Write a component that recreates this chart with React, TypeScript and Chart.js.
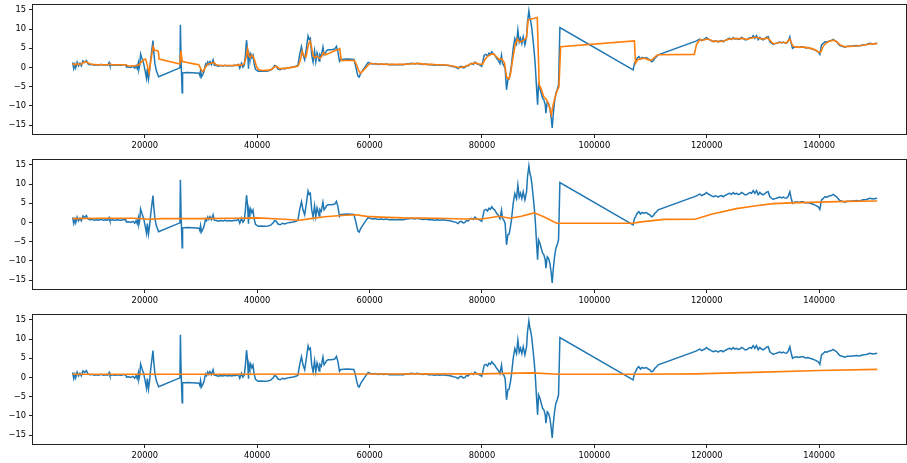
import React, { useEffect, useRef } from "react";
import { Chart, registerables } from "chart.js";

Chart.register(...registerables);

const xTicks = [20000, 40000, 60000, 80000, 100000, 120000, 140000];
const yTicks = [-15, -10, -5, 0, 5, 10, 15];

// raw signal (blue), same in all three panels
const rawSeries: [number, number][] = [
  [7150,1.3],[7350,-0.3],[7550,0.8],[7700,-0.1],[7950,1.4],[8200,0.4],[8450,1.1],[8700,0.4],[9000,1.7],[9300,1.3],[9600,1.8],[9900,0.9],[10200,0.7],[10600,0.8],[11000,0.6],[11400,0.7],[11800,0.6],[12200,0.8],[12600,0.6],[13000,0.7],[13400,0.6],[13650,1.3],[13800,0.5],[14200,0.7],[14700,0.6],[15200,0.7],[15700,0.6],[16200,0.7],[16600,0.7],
  [16750,0.1],[17100,0.2],[17500,0.0],[17900,0.3],[18200,-0.2],[18450,0.5],[18650,-0.3],[18850,1.2],[18950,-0.4],[19100,0.6],
  [19250,3.5],[19500,2.3],[19800,1.0],[20050,-0.8],[20300,-2.8],[20450,-0.3],[20650,-3.0],[20850,-0.8],[21050,2.2],[21250,4.6],[21450,7.0],[21600,4.0],[21800,1.0],[22050,-0.8],[22450,-2.4],
  [26250,-0.1],[26330,11.1],[26450,2.0],[26650,-6.6],[26720,-1.4],[27500,-1.3],[28500,-1.4],[29650,-1.5],[29800,-2.1],[29920,-0.8],[30100,-2.4],[30300,-1.9],[30500,-1.2],[30700,0.2],[30850,0.9],[31000,0.5],[31200,1.4],[31400,0.8],[31600,1.5],[31850,0.7],[32150,2.0],[32350,0.6],[32700,0.5],[33100,0.3],[33500,0.5],[33900,0.4],[34300,0.6],[34700,0.4],[35100,0.5],[35500,0.4],[35900,0.6],[36300,0.5],[36650,0.8],[36900,-0.2],[37200,1.1],[37450,0.1],[37700,0.6],[37900,3.2],[38100,7.1],[38280,4.6],[38450,-0.3],[38570,3.3],[38700,2.4],[38850,3.5],[39050,2.5],[39250,3.2],[39450,1.0],[39700,-0.5],[40150,-1.0],[40700,-0.9],[41300,-1.0],[41900,-0.9],[42400,-0.7],[42850,-0.1],[43100,0.5],[43400,0.3],[43700,-0.4],[44100,-0.6],[44500,-0.2],[44900,-0.4],[45400,-0.1],[45900,0.0],[46400,0.1],[46900,0.3],[47250,0.6],
  [47550,3.3],[47880,5.4],[48150,3.3],[48450,2.0],[48750,5.0],[49050,8.2],[49250,7.3],[49450,7.6],[49700,3.3],[49950,1.4],[50200,4.3],[50430,1.5],[50650,3.8],[50850,2.8],[51030,1.7],[51150,3.4],[51400,2.9],[51700,5.3],[51900,3.3],[52200,3.9],[52350,4.4],[52650,4.6],[53200,4.6],[53800,4.8],[54100,5.5],[54350,4.2],[54650,1.6],[54900,2.1],[56000,2.2],[57200,2.1],
  [57450,0.8],[57750,-1.2],[57950,-2.3],[58150,-2.5],[58400,-1.6],[58800,-0.7],[59250,0.3],[59750,1.3],[60050,1.1],[60500,0.9],[61000,1.0],[61500,0.8],[62000,0.9],[62500,0.8],[63000,0.9],[63500,0.7],[64000,0.8],[64500,0.7],[65000,0.7],[65500,0.8],[66000,0.7],[66500,0.9],[67000,1.0],[67500,1.1],[68000,0.9],[68500,1.1],[69000,0.9],[69500,0.8],[70000,0.9],[70500,0.7],[71000,0.8],[71500,0.6],[72000,0.7],[72500,0.6],[73000,0.7],[73500,0.6],[74000,0.5],[74500,0.4],[74900,0.2],[75300,0.1],[75750,-0.3],[76050,0.2],[76350,0.3],[76650,-0.1],[76950,0.0],[77250,0.5],[77550,0.4],[77850,0.9],[78150,1.1],[78450,0.8],[78750,1.4],[79050,1.0],[79350,0.8],[79650,0.6],[79950,0.3],[80150,1.5],
  [80400,3.2],[80700,3.4],[81000,3.0],[81250,3.7],[81500,3.4],[81750,4.1],[82000,3.6],[82300,3.2],[82600,2.4],[82900,1.9],[83200,1.0],[83480,3.2],[83660,1.0],[83900,0.6],[84130,-0.3],[84370,-5.8],[84610,-3.2],[84840,-3.0],[85080,-1.0],[85260,0.8],[85560,5.0],[85850,7.5],[86150,6.2],[86390,9.7],[86630,6.6],[86860,7.6],[87100,6.2],[87340,8.0],[87640,5.9],[87930,7.9],[88110,11.9],[88350,14.7],[88530,12.8],[88710,11.8],[88880,10.1],[89120,6.7],[89300,4.0],[89480,0.7],[89720,-5.4],[89900,-9.7],[90070,-4.5],[90310,-5.4],[90550,-6.7],[90790,-8.0],[91020,-8.4],[91260,-9.7],[91380,-11.9],[91620,-8.9],[91850,-9.3],[92090,-10.6],[92330,-13.2],[92500,-15.7],[92680,-12.3],[92920,-8.9],[93160,-6.7],[93390,-5.8],[93630,-4.5],[93870,10.4],
  [106900,-0.6],[107150,1.1],[107380,1.6],[107620,2.4],[107920,2.8],[108220,2.2],[108510,2.6],[108810,2.4],[109280,2.6],[109580,2.2],[109880,2.0],[110170,1.5],[110470,1.7],[110770,2.4],[111070,2.8],[111360,3.3],
  [118190,6.9],[118480,7.2],[118780,7.4],[119070,7.0],[119370,7.2],[119660,7.4],[119960,7.8],[120260,7.4],[120560,7.2],[120850,6.9],[121150,6.7],[121450,6.9],[121740,6.9],[122040,6.6],[122340,6.9],[122630,7.0],[122930,6.7],[123220,7.0],[123520,7.2],[123820,7.5],[124120,7.6],[124410,7.3],[124710,7.8],[125000,7.4],[125300,7.6],[125600,7.3],[125900,7.4],[126200,7.8],[126490,7.6],[126780,7.2],[127080,7.2],[127380,7.5],[127680,7.8],[127980,7.6],[128270,8.3],[128570,7.6],[128870,8.3],[129160,7.2],[129460,7.8],[129750,7.4],[130050,7.2],[130350,7.5],[130650,7.9],[130940,8.0],[131240,6.7],[131540,6.3],[131830,6.0],[132130,6.2],[132430,6.3],[132730,6.5],[133020,6.6],[133320,6.4],[133610,6.6],[133900,6.4],[134200,6.3],[134500,6.8],[134790,8.0],[135000,6.5],[135270,5.0],[135600,5.3],[135980,5.4],[136400,5.2],[136800,5.4],[137170,5.4],[137600,5.1],[138000,5.2],[138350,5.0],[138800,4.8],[139300,4.5],[139840,4.1],[140130,3.4],[140430,5.9],[140700,6.2],[141020,6.7],[141400,6.6],[141800,6.9],[142200,7.0],[142510,7.3],[142800,7.0],[143100,6.7],[143400,6.2],[143690,5.7],[144100,5.5],[144580,5.3],[145000,5.5],[145470,5.5],[146000,5.6],[146660,5.7],[147200,5.6],[147840,5.9],[148400,6.0],[149030,6.3],[149600,6.1],[150340,6.3],
];

// orange, panel 1 (short window)
const smoothShort: [number, number][] = [
  [7150,1.1],[7500,0.6],[7900,1.0],[8300,0.8],[8700,0.9],[9100,1.3],[9500,1.5],[9900,1.2],[10300,0.9],[10800,0.8],[11500,0.7],[12500,0.7],[13500,0.7],[13800,0.9],[14300,0.7],[15500,0.7],[16600,0.7],[17000,0.4],[17800,0.4],[18500,0.5],[19000,0.7],[19400,1.5],[19800,2.0],[20150,2.2],[20400,0.8],[20750,-1.4],[21050,1.5],[21300,4.0],[21500,5.4],[21700,4.5],[22100,4.4],[22400,4.2],[22550,2.2],[26250,0.9],[26420,4.3],[26650,1.6],[27500,1.3],[28500,1.0],[29600,0.7],[29950,-0.3],[30250,-1.1],[30550,-0.6],[30900,0.4],[31300,1.0],[31800,1.1],[32300,1.3],[32700,0.7],[33300,0.5],[34500,0.5],[35500,0.5],[36500,0.6],[37200,0.6],[37700,1.0],[38000,2.5],[38280,4.8],[38500,3.0],[38750,2.6],[39000,3.2],[39300,2.8],[39600,1.6],[39900,0.1],[40300,-0.6],[41000,-0.8],[42000,-0.7],[42600,-0.5],[43100,0.2],[43500,0.3],[43900,-0.3],[44500,-0.3],[45500,-0.1],[46500,0.1],[47300,0.4],[47700,2.0],[48000,4.2],[48300,3.0],[48700,2.8],[49100,5.9],[49400,6.8],[49650,5.5],[49950,3.0],[50300,2.5],[50600,3.0],[50900,2.6],[51200,2.4],[51500,3.0],[51800,3.9],[52100,3.3],[52500,3.5],[53100,3.9],[53700,4.3],[54300,4.6],[54700,4.9],[54950,1.8],[57300,1.8],[57650,0.8],[58000,-0.6],[58350,-1.5],[58800,-0.9],[59300,-0.1],[59800,0.7],[60200,1.1],[61000,0.9],[62000,0.9],[63000,0.8],[64000,0.8],[65000,0.8],[66000,0.8],[67000,0.9],[68000,1.0],[69000,1.0],[70000,0.8],[71000,0.8],[72000,0.7],[73000,0.7],[74000,0.6],[75000,0.3],[75800,0.0],[76500,0.1],[77200,0.3],[78000,0.9],[78800,1.2],[79500,0.9],[80100,0.8],[80500,2.0],[81000,2.9],[81500,3.3],[82000,3.6],[82500,2.9],[83000,2.1],[83500,2.3],[84000,1.2],[84400,-2.6],[84800,-3.0],[85100,-1.5],[85500,2.4],[85900,5.9],[86300,7.4],[86700,6.6],[87100,6.8],[87500,7.2],[87900,7.6],[88230,12.4],[89840,13.0],[90190,-4.5],[90600,-5.8],[91000,-7.6],[91500,-8.4],[91900,-9.7],[92350,-12.3],[92600,-10.2],[92900,-8.4],[93300,-6.3],[93700,-5.0],[94000,5.4],[107140,6.9],[107320,1.1],[107700,2.0],[108300,2.3],[109000,2.4],[109600,2.0],[110000,1.8],[110500,2.3],[111000,3.0],[111360,3.3],[117780,3.4],[118190,6.0],[118780,7.2],[119400,7.1],[120000,7.4],[120600,7.2],[121200,6.8],[121800,6.8],[122400,6.8],[123000,6.9],[123600,7.2],[124200,7.4],[124800,7.5],[125400,7.5],[126000,7.5],[126600,7.5],[127200,7.3],[127800,7.6],[128400,7.8],[129000,7.8],[129600,7.5],[130200,7.4],[130800,7.7],[131300,7.0],[131800,6.2],[132400,6.3],[133000,6.5],[133600,6.5],[134200,6.4],[134800,7.4],[135300,5.6],[135900,5.3],[136600,5.3],[137300,5.3],[138000,5.1],[138700,4.9],[139300,4.6],[139900,4.0],[140300,4.0],[140700,5.5],[141200,6.3],[141800,6.8],[142500,7.1],[143100,6.8],[143700,5.9],[144500,5.4],[145400,5.5],[146600,5.6],[147800,5.8],[149000,6.1],[150340,6.2],
];

// orange, panel 2 (medium window)
const smoothMedium: [number, number][] = [
  [7150,1.0],[12000,1.1],[18000,1.1],[20900,0.85],[23000,1.0],[30000,1.0],[36000,1.1],[40000,1.2],[44000,0.9],[47500,0.6],[49500,1.0],[52000,1.5],[55000,1.8],[57500,2.0],[59500,1.6],[62000,1.4],[66000,1.2],[72000,1.1],[77000,0.9],[80000,0.9],[83000,1.6],[85000,1.1],[87000,1.6],[89300,2.5],[91000,1.5],[93300,-0.2],[100000,-0.2],[106900,-0.2],[108000,0.1],[112300,0.8],[117900,0.85],[121000,2.2],[125300,3.6],[128500,4.3],[131800,4.9],[135000,5.1],[140000,5.3],[145000,5.5],[150340,5.6],
];

// orange, panel 3 (long window)
const smoothLong: [number, number][] = [
  [7150,0.85],[30000,0.85],[60000,0.9],[80000,0.95],[89000,1.2],[93500,0.85],[107000,0.85],[118000,0.95],[130000,1.4],[140000,1.8],[150340,2.1],
];

const X_MIN = 100;
const X_MAX = 155465;
const Y_MIN = -17.3;
const Y_MAX = 16.25;

const BLUE = "#1f77b4";
const ORANGE = "#ff7f0e";
const FONT = { family: "'DejaVu Sans', sans-serif", size: 8.3 };

const fmt = (v: number) => (v < 0 ? "\u2212" + Math.abs(v) : String(v));
const toPts = (s: [number, number][]) => s.map(([x, y]) => ({ x, y }));

const framePlugin = {
  id: "frame",
  afterDatasetsDraw(chart: any) {
    const { ctx, chartArea: a } = chart;
    ctx.save();
    ctx.strokeStyle = "#222";
    ctx.lineWidth = 1;
    ctx.strokeRect(
      Math.round(a.left) - 0.5,
      Math.round(a.top) - 0.5,
      Math.round(a.right - a.left) + 1,
      Math.round(a.bottom - a.top) + 1
    );
    ctx.restore();
  },
};

function Panel({ top, smooth }: { top: number; smooth: [number, number][] }) {
  const ref = useRef<HTMLCanvasElement>(null);
  useEffect(() => {
    const chart = new Chart(ref.current as HTMLCanvasElement, {
      type: "line",
      data: {
        datasets: [
          {
            data: toPts(smooth),
            borderColor: ORANGE,
            borderWidth: 1.6,
            pointRadius: 0,
            tension: 0,
            fill: false,
          },
          {
            data: toPts(rawSeries),
            borderColor: BLUE,
            borderWidth: 1.5,
            pointRadius: 0,
            tension: 0,
            fill: false,
          },
        ],
      },
      options: {
        animation: false,
        responsive: false,
        events: [],
        layout: { padding: { top: 5, right: 1, left: 0, bottom: 0 } },
        plugins: { legend: { display: false }, tooltip: { enabled: false } },
        scales: {
          x: {
            type: "linear",
            min: X_MIN,
            max: X_MAX,
            afterBuildTicks: (s: any) => {
              s.ticks = xTicks.map((v) => ({ value: v }));
            },
            afterFit: (s: any) => {
              s.height = 21;
              s.paddingLeft = 0;
              s.paddingRight = 0;
            },
            grid: { drawOnChartArea: false, drawTicks: true, tickLength: 4, color: "#222" },
            border: { display: false },
            ticks: {
              font: FONT,
              color: "#000",
              padding: 3,
              maxRotation: 0,
              autoSkip: false,
              callback: (v: any) => fmt(Number(v)),
            },
          },
          y: {
            type: "linear",
            min: Y_MIN,
            max: Y_MAX,
            afterBuildTicks: (s: any) => {
              s.ticks = yTicks.map((v) => ({ value: v }));
            },
            afterFit: (s: any) => {
              s.width = 33;
              s.paddingTop = 0;
              s.paddingBottom = 0;
            },
            grid: { drawOnChartArea: false, drawTicks: true, tickLength: 4, color: "#222" },
            border: { display: false },
            ticks: {
              font: FONT,
              color: "#000",
              padding: 3,
              autoSkip: false,
              callback: (v: any) => fmt(Number(v)),
            },
          },
        },
      },
      plugins: [framePlugin],
    } as any);
    return () => chart.destroy();
  }, [smooth]);
  return (
    <canvas
      ref={ref}
      width={907}
      height={155}
      style={{ position: "absolute", left: 0, top, width: 907, height: 155 }}
    />
  );
}

export default function App() {
  return (
    <div
      style={{
        position: "fixed",
        left: 0,
        top: 0,
        width: 907,
        height: 463,
        overflow: "hidden",
        background: "#fff",
      }}
    >
      <Panel top={0} smooth={smoothShort} />
      <Panel top={155} smooth={smoothMedium} />
      <Panel top={310} smooth={smoothLong} />
    </div>
  );
}
